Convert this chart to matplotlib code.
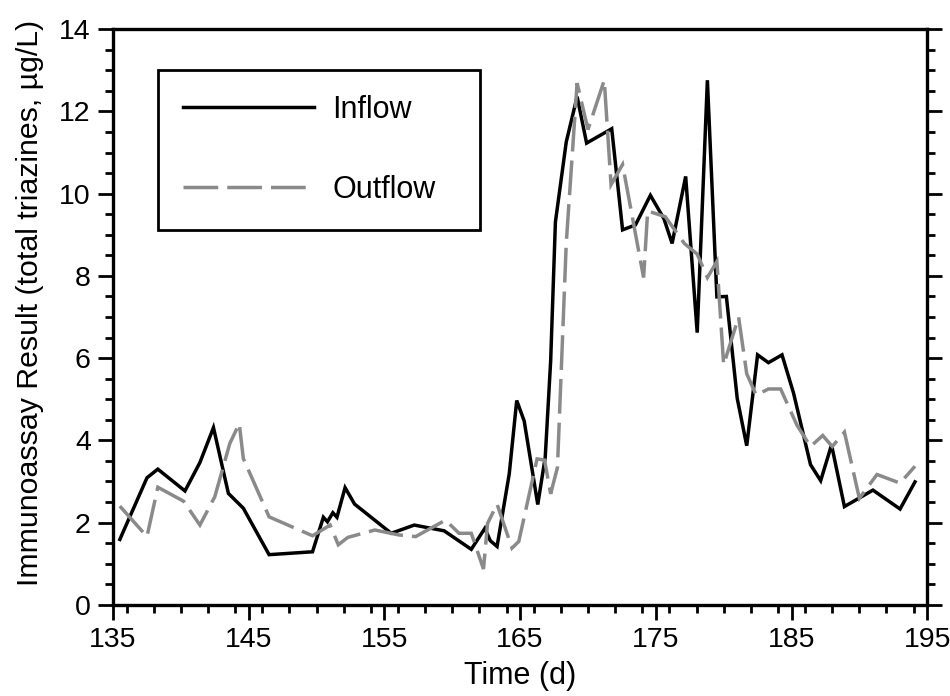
import matplotlib
matplotlib.use("Agg")
import matplotlib.pyplot as plt
from matplotlib.ticker import MultipleLocator

plt.rcParams['font.family'] = ['Liberation Sans', 'DejaVu Sans']

# Inflow series (time in days, immunoassay result in ug/L)
inflow_day = [135.5, 137.5, 138.3, 140.3, 141.4, 142.4, 143.5, 144.6, 146.5, 149.7,
              150.5, 150.8, 151.2, 151.5, 152.1, 152.8, 155.5, 157.2, 159.4, 161.4,
              162.4, 162.8, 163.3, 164.2, 164.75, 165.3, 166.3, 166.85, 167.25, 167.6,
              168.4, 169.2, 169.9, 171.75, 172.55, 173.5, 174.6, 175.6, 176.2, 177.2,
              178.05, 178.8, 179.5, 180.2, 181.0, 181.7, 182.5, 183.3, 184.3, 185.15,
              186.4, 187.15, 187.95, 188.9, 191.0, 193.0, 194.1]
inflow_val = [1.59, 3.09, 3.30, 2.77, 3.46, 4.31, 2.71, 2.35, 1.22, 1.29,
              2.13, 2.02, 2.24, 2.13, 2.85, 2.45, 1.74, 1.94, 1.80, 1.35,
              1.86, 1.56, 1.42, 3.19, 4.97, 4.47, 2.44, 3.59, 5.93, 9.31,
              11.26, 12.36, 11.23, 11.58, 9.12, 9.24, 9.96, 9.39, 8.79, 10.42,
              6.62, 12.76, 7.49, 7.50, 5.02, 3.87, 6.08, 5.89, 6.08, 5.15,
              3.41, 3.02, 3.89, 2.39, 2.79, 2.33, 2.99]

# Outflow series
outflow_day = [135.5, 137.5, 138.3, 140.2, 141.4, 142.5, 143.6, 144.3, 144.6, 146.5,
               149.7, 151.0, 151.6, 152.3, 154.3, 156.05, 157.3, 159.5, 160.5, 161.4,
               162.3, 162.6, 163.3, 164.4, 164.9, 166.25, 166.8, 167.25, 167.75, 168.4,
               169.2, 170.0, 171.2, 171.7, 172.55, 174.1, 174.4, 175.7, 177.1, 178.05,
               178.8, 179.5, 180.0, 181.1, 181.7, 182.4, 183.3, 184.2, 185.4, 186.4,
               187.3, 188.0, 188.9, 190.0, 191.3, 193.0, 194.1]
outflow_val = [2.40, 1.66, 2.86, 2.52, 1.94, 2.63, 3.92, 4.41, 3.56, 2.14,
               1.68, 1.94, 1.46, 1.64, 1.82, 1.70, 1.66, 2.06, 1.74, 1.74,
               0.87, 1.98, 2.45, 1.38, 1.54, 3.55, 3.52, 2.70, 3.34, 8.8,
               12.69, 11.56, 12.76, 10.22, 10.71, 7.96, 9.58, 9.44, 8.79, 8.53,
               7.96, 8.35, 5.84, 7.0, 5.62, 5.10, 5.25, 5.25, 4.37, 3.85,
               4.12, 3.85, 4.20, 2.59, 3.17, 2.96, 3.37]

x_ticks = [135, 145, 155, 165, 175, 185, 195]
y_ticks = [0, 2, 4, 6, 8, 10, 12, 14]

fig = plt.figure(figsize=(9.5, 6.96), dpi=100)
ax = fig.add_axes([0.119, 0.131, 0.857, 0.827])

ax.plot(inflow_day, inflow_val, color='black', lw=2.5, solid_joinstyle='miter',
        label='Inflow')
ax.plot(outflow_day, outflow_val, color='#8a8a8a', lw=2.5, dashes=(10, 2.6),
        dash_joinstyle='miter', label='Outflow')

ax.set_xlim(135, 195)
ax.set_ylim(0, 14)
ax.set_xticks(x_ticks)
ax.set_yticks(y_ticks)
ax.xaxis.set_minor_locator(MultipleLocator(2))
ax.yaxis.set_minor_locator(MultipleLocator(0.5))

for s in ax.spines.values():
    s.set_linewidth(2.4)
ax.tick_params(which='both', direction='out', width=2.0, labelsize=20.5,
               top=False, right=True, labelright=False)
ax.tick_params(which='major', length=11, pad=5)
ax.tick_params(which='minor', length=6)

ax.set_xlabel('Time (d)', fontsize=22, labelpad=6)
ax.set_ylabel('Immunoassay Result (total triazines, µg/L)', fontsize=21.8)
# label sits a bit above the axes centre in the original
ax.yaxis.set_label_coords(-0.085, 0.525)

leg = ax.legend(loc='upper left', bbox_to_anchor=(0.055, 0.653, 0.396, 0.277),
                mode='expand', borderaxespad=0, fontsize=22, handlelength=4.3,
                handletextpad=0.6, borderpad=0.82, labelspacing=1.65,
                fancybox=False, edgecolor='black', framealpha=1)
leg.get_frame().set_linewidth(2.0)

fig.savefig('out.png', dpi=100)
